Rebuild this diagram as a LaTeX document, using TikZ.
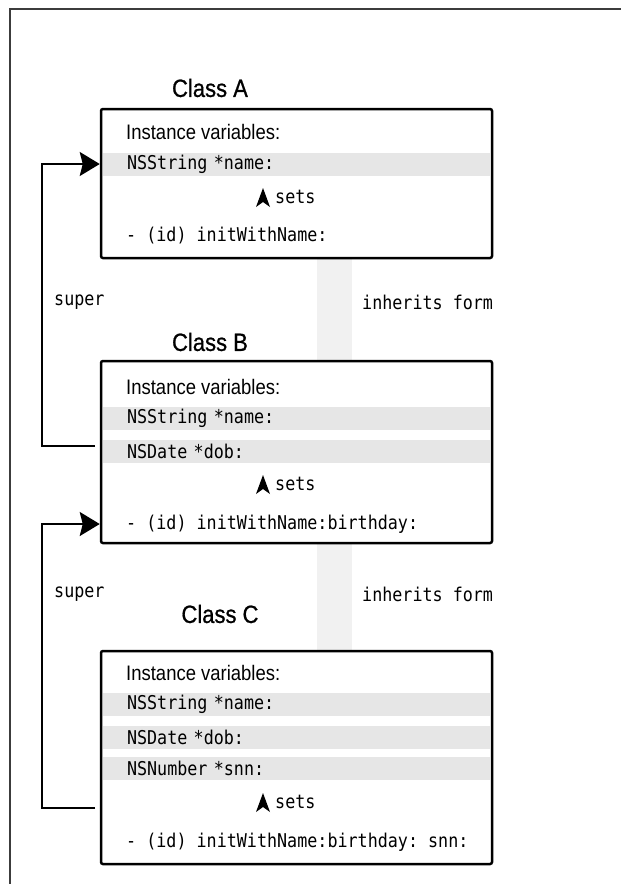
\documentclass[tikz,border=0pt]{standalone}
\usepackage{fontspec}
\setmainfont{Liberation Sans}
\setmonofont[FakeStretch=0.88]{DejaVu Sans Mono}
\newfontfamily\narrowfont[FakeStretch=0.88]{Liberation Sans}
\newfontfamily\titlefont[FakeStretch=0.88,FakeBold=0.8]{Liberation Sans}
\usetikzlibrary{arrows.meta}
\definecolor{bandgray}{RGB}{230,230,230}
\definecolor{stripgray}{RGB}{241,241,241}
\definecolor{framegray}{RGB}{60,60,60}
\newcommand\monotext{\ttfamily\fontsize{19}{22}\selectfont}

\begin{document}
\begin{tikzpicture}[x=1pt,y=-1pt,
  classbox/.style={draw, line width=2.5pt, rounded corners=2pt, fill=white, minimum width=391pt, inner sep=0pt},
  classtitle/.style={font=\titlefont\fontsize{25}{30}\selectfont, inner sep=0pt},
  ivartext/.style={anchor=west, font=\narrowfont\fontsize{21}{25}\selectfont, inner sep=0pt},
  rowband/.style={fill=bandgray, anchor=west, minimum height=23pt, text width=339pt, inner xsep=24pt, inner ysep=0pt, outer sep=0pt, align=left, font=\monotext},
  code/.style={anchor=west, font=\monotext, inner sep=0pt},
  superarrow/.style={line width=2pt, -{Stealth[length=20pt, width=24pt, inset=3pt]}},
  upstealth/.pic={\fill (0,-10) -- (7,9) -- (0,4) -- (-7,9) -- cycle;}]
\useasboundingbox (0,0) rectangle (621,884);
% frame
\draw[framegray, line width=1.2pt] (10,884) -- (10,9) -- (621,9);
% grey strips between the classes
\fill[stripgray] (317,258) rectangle (352,361);
\fill[stripgray] (317,543) rectangle (352,651);
% class A
\node[classtitle] (titleA) at (210,88) {Class A};
\node[classbox, minimum height=149pt] (boxA) at (296.5,183.5) {};
\node[ivartext] (ivarA) at (126,132) {Instance variables:};
\node[rowband] (nameA) at (103,164) {NSString *name:};
\pic at (263,198) {upstealth};
\node[code] (setsA) at (275,197) {sets};
\node[code] (initA) at (126,236) {- (id) initWithName:};
% class B
\node[classtitle] (titleB) at (210,342) {Class B};
\node[classbox, minimum height=182pt] (boxB) at (296.5,452) {};
\node[ivartext] (ivarB) at (126,387) {Instance variables:};
\node[rowband] (nameB) at (103,418) {NSString *name:};
\node[rowband] (dobB) at (103,451) {NSDate *dob:};
\pic at (263,485) {upstealth};
\node[code] (setsB) at (275,484) {sets};
\node[code] (initB) at (126,524) {- (id) initWithName:birthday:};
% class C
\node[classtitle] (titleC) at (220,614) {Class C};
\node[classbox, minimum height=213pt] (boxC) at (296.5,757.5) {};
\node[ivartext] (ivarC) at (126,673) {Instance variables:};
\node[rowband] (nameC) at (103,704) {NSString *name:};
\node[rowband] (dobC) at (103,737) {NSDate *dob:};
\node[rowband] (snnC) at (103,768) {NSNumber *snn:};
\pic at (263,803) {upstealth};
\node[code] (setsC) at (275,802) {sets};
\node[code] (initC) at (126,842) {- (id) initWithName:birthday: snn:};
% labels
\node[code] (superAB) at (54,302) {super};
\node[code] (inhAB) at (362,302) {inherits form};
\node[code] (superBC) at (54,594) {super};
\node[code] (inhBC) at (362,594) {inherits form};
% super arrows
\coordinate (fromB) at (95,446);
\draw[superarrow] (fromB) -- ++(-53,0) |- (boxA.west |- nameA.west);
\coordinate (fromC) at (95,808);
\draw[superarrow] (fromC) -- ++(-53,0) |- (boxB.west |- initB.west);
\end{tikzpicture}
\end{document}
